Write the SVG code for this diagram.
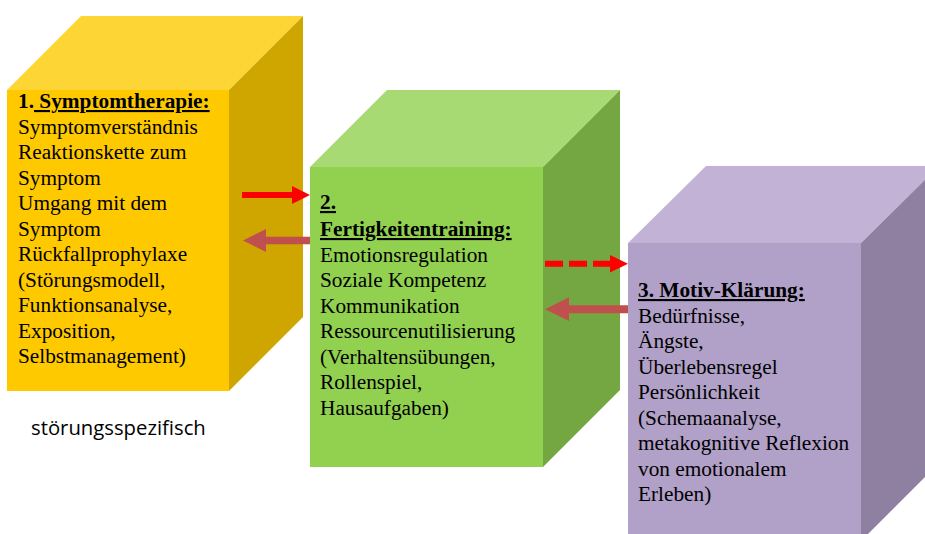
<svg xmlns="http://www.w3.org/2000/svg" width="925" height="534" viewBox="0 0 925 534">
<style>
.t{font-family:"Liberation Serif","Times New Roman",serif;font-size:21.3px;fill:#000}
.b{font-weight:bold}
.u{text-decoration:underline}
.s{font-family:"Open Sans","Liberation Sans",sans-serif;font-size:20.3px;fill:#000}
.red{stroke:#FF0000;fill:none}
.brn{stroke:#C0504D;fill:none}
</style>
<rect width="925" height="534" fill="#fff"/>
<g id="cube1">
<polygon points="7,90 81,16 303,16 229,90" fill="#FDD535"/>
<polygon points="229,90 303,16 303,317 229,391" fill="#CFA500"/>
<rect x="7" y="90" width="222" height="301" fill="#FFC900"/>
<text class="t" x="18" y="108"><tspan class="b">1.</tspan><tspan class="b u"> Symptomtherapie:</tspan></text>
<text class="t" x="18" y="133.5">Symptomverständnis</text>
<text class="t" x="18" y="159">Reaktionskette zum</text>
<text class="t" x="18" y="184.5">Symptom</text>
<text class="t" x="18" y="210">Umgang mit dem</text>
<text class="t" x="18" y="235.5">Symptom</text>
<text class="t" x="18" y="261">Rückfallprophylaxe</text>
<text class="t" x="18" y="286.5">(Störungsmodell,</text>
<text class="t" x="18" y="312">Funktionsanalyse,</text>
<text class="t" x="18" y="337.5">Exposition,</text>
<text class="t" x="18" y="363">Selbstmanagement)</text>
</g>
<g id="label-stoerungsspezifisch">
<text class="s" x="31" y="435">störungsspezifisch</text>
</g>
<g id="cube2">
<polygon points="310,167 387,90 620,90 543,167" fill="#A8DA74"/>
<polygon points="543,167 620,90 620,390 543,467" fill="#74A741"/>
<rect x="310" y="167" width="233" height="300" fill="#92D050"/>
<text class="t b" x="320" y="209"><tspan class="u">2.</tspan></text>
<text class="t b" x="320" y="236"><tspan class="u">Fertigkeitentraining:</tspan></text>
<text class="t" x="320" y="261.5">Emotionsregulation</text>
<text class="t" x="320" y="287">Soziale Kompetenz</text>
<text class="t" x="320" y="312.5">Kommunikation</text>
<text class="t" x="320" y="338">Ressourcenutilisierung</text>
<text class="t" x="320" y="363.5">(Verhaltensübungen,</text>
<text class="t" x="320" y="389">Rollenspiel,</text>
<text class="t" x="320" y="414.5">Hausaufgaben)</text>
</g>
<g id="cube3">
<polygon points="628,243 706,166 939,166 861,243" fill="#C2B3D6"/>
<polygon points="861,243 939,166 939,463 861,541" fill="#8F80A1"/>
<rect x="628" y="243" width="233" height="298" fill="#B1A0C7"/>
<text class="t b" x="638" y="297"><tspan class="u">3. Motiv-Klärung:</tspan></text>
<text class="t" x="638" y="322.5">Bedürfnisse,</text>
<text class="t" x="638" y="348">Ängste,</text>
<text class="t" x="638" y="373.5">Überlebensregel</text>
<text class="t" x="638" y="399">Persönlichkeit</text>
<text class="t" x="638" y="424.5">(Schemaanalyse,</text>
<text class="t" x="638" y="450">metakognitive Reflexion</text>
<text class="t" x="638" y="475.5">von emotionalem</text>
<text class="t" x="638" y="501">Erleben)</text>
</g>
<g id="connectors">
<line class="red" x1="242" y1="195" x2="293" y2="195" stroke-width="6"/>
<polygon points="292,186 310,195 292,204" fill="#FF0000"/>
<line class="brn" x1="265" y1="240.5" x2="310" y2="240.5" stroke-width="7.5"/>
<polygon points="266,229 243,240.5 266,252" fill="#C0504D"/>
<line class="red" x1="545" y1="263.7" x2="611" y2="263.7" stroke-width="6" stroke-dasharray="18 6"/>
<polygon points="610,255 628,263.7 610,272.4" fill="#FF0000"/>
<line class="brn" x1="568" y1="309.2" x2="628" y2="309.2" stroke-width="8"/>
<polygon points="569,297.3 545,309.2 569,321" fill="#C0504D"/>
</g>
</svg>
